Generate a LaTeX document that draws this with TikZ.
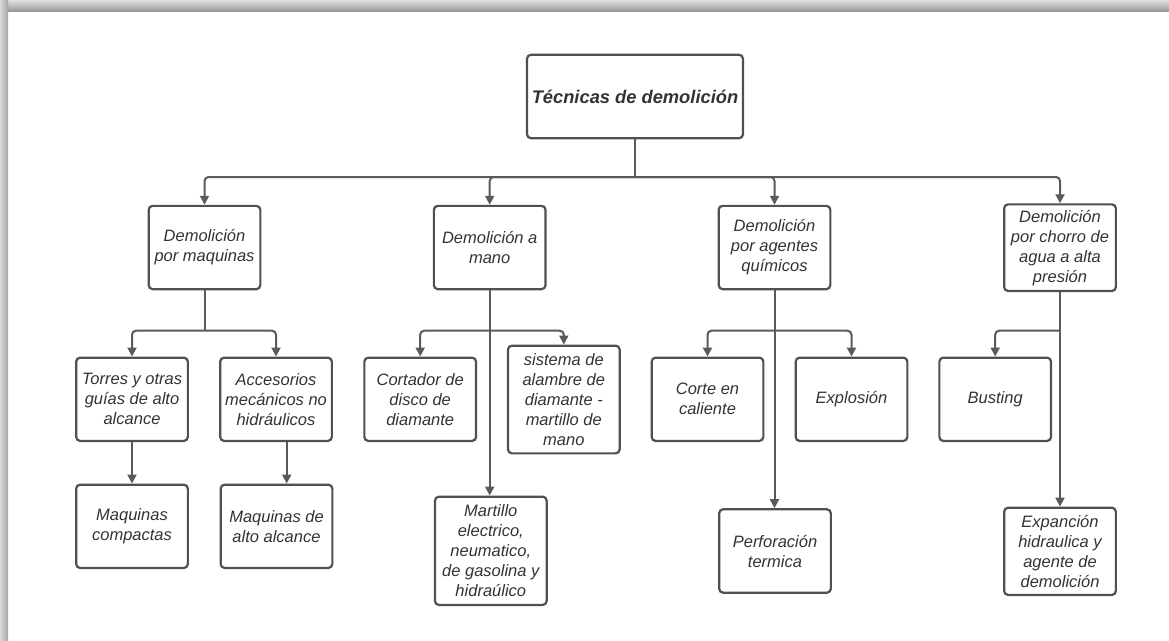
\documentclass[tikz,border=0pt]{standalone}
\usepackage{fontspec}
\setmainfont{Liberation Sans}
\usetikzlibrary{arrows.meta}

\definecolor{txt}{HTML}{333333}
\definecolor{edge}{HTML}{505050}
\definecolor{wire}{HTML}{5a5a5a}

\tikzset{
  box/.style={draw=edge, line width=2.2pt, rounded corners=4pt, fill=white,
    minimum width=111.7pt, minimum height=83.3pt, inner sep=0pt,
    align=center, text=txt,
    font=\fontsize{16.5pt}{20pt}\selectfont\itshape},
  rootbox/.style={box, minimum width=216pt, minimum height=83.5pt,
    font=\fontsize{18.3pt}{22pt}\selectfont\bfseries\itshape},
  wireline/.style={draw=wire, line width=2pt, rounded corners=4pt},
  wirearrow/.style={wireline, -{Triangle[length=9pt,width=9pt]}},
}

\begin{document}
\begin{tikzpicture}[x=1pt, y=-1pt]
\useasboundingbox (0,0) rectangle (1169,640);
\fill[white] (0,0) rectangle (1169,640);

% shaded page edge, top and left
\shade[top color=black!12, bottom color=black!40] (0,0) rectangle (1169,11);
\shade[left color=black!15, right color=black!35] (0,0) rectangle (8,640);

% root
\node[rootbox] (root) at (635,96.5) {Técnicas de demolición};

% first level
\node[box] (c1) at (204.5,247.5) {Demolición\\por maquinas};
\node[box] (c2) at (489.7,247.5) {Demolición a\\mano};
\node[box] (c3) at (774.5,247.5) {Demolición\\por agentes\\químicos};
\node[box, minimum height=86.7pt] (c4) at (1060,247.7) {Demolición\\por chorro de\\agua a alta\\presión};

% second level
\node[box] (torres) at (132,399.3) {Torres y otras\\guías de alto\\alcance};
\node[box] (acc) at (276,399.3) {Accesorios\\mecánicos no\\hidráulicos};
\node[box] (mc) at (132,526.3) {Maquinas\\compactas};
\node[box] (mda) at (276.5,526.3) {Maquinas de\\alto alcance};

\node[box] (cort) at (420.2,399.3) {Cortador de\\disco de\\diamante};
\node[box, minimum height=107.7pt] (sist) at (563.8,399.5) {sistema de\\alambre de\\diamante -\\martillo de\\mano};
\node[box, minimum height=108.3pt] (mart) at (490.8,550.8) {Martillo\\electrico,\\neumatico,\\de gasolina y\\hidraúlico};

\node[box] (corte) at (707.5,399.3) {Corte en\\caliente};
\node[box] (expl) at (851.5,399.3) {Explosión};
\node[box, minimum height=83.4pt] (perf) at (775,551) {Perforación\\termica};

\node[box] (bust) at (995.2,399.3) {Busting};
\node[box, minimum height=87.3pt] (expan) at (1060,551.3) {Expanción\\hidraulica y\\agente de\\demolición};

% bus junctions
\coordinate (b0) at (root.south |- 0,177);
\coordinate (b1) at (c1.south |- 0,330.7);
\coordinate (b2) at (c2.south |- 0,330.7);
\coordinate (b3) at (c3.south |- 0,330.7);
\coordinate (b4) at (c4.south |- 0,330.7);

% root to first level
\draw[wireline] (root.south) -- (b0);
\draw[wirearrow] (b0) -| (c1.north);
\draw[wirearrow] (b0) -| (c2.north);
\draw[wirearrow] (b0) -| (c3.north);
\draw[wirearrow] (b0) -| (c4.north);

% machines
\draw[wireline] (c1.south) -- (b1);
\draw[wirearrow] (b1) -| (torres.north);
\draw[wirearrow] (b1) -| (acc.north);
\draw[wirearrow] (torres.south) -- (mc.north);
\draw[wirearrow] ([xshift=10.7pt]acc.south) -- ([xshift=10.7pt]acc.south |- mda.north);

% by hand
\draw[wirearrow] (c2.south) -- (c2.south |- mart.north);
\draw[wirearrow] (b2) -| (cort.north);
\draw[wirearrow] (b2) -| (sist.north);

% chemical agents
\draw[wirearrow] (c3.south) -- (c3.south |- perf.north);
\draw[wirearrow] (b3) -| (corte.north);
\draw[wirearrow] (b3) -| (expl.north);

% high-pressure water jet
\draw[wirearrow] (c4.south) -- (c4.south |- expan.north);
\draw[wirearrow] (b4) -| (bust.north);
\end{tikzpicture}
\end{document}
